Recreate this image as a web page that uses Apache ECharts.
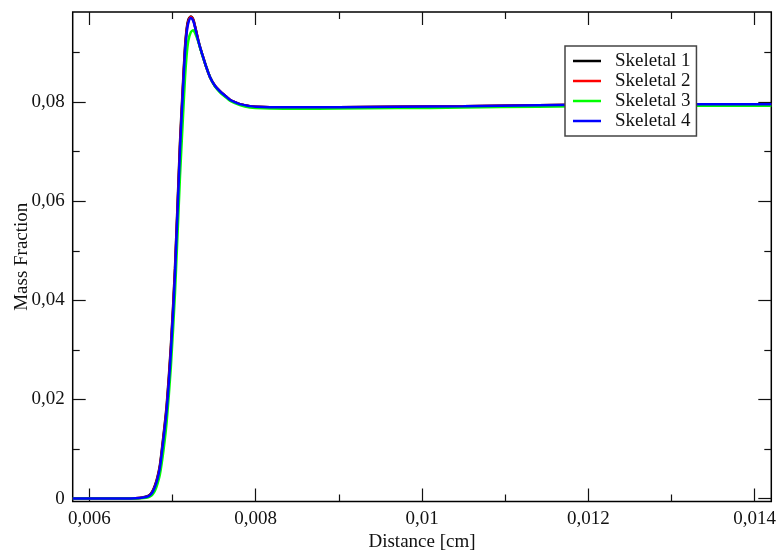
<!DOCTYPE html>
<html>
<head>
<meta charset="utf-8">
<script src="https://cdn.jsdelivr.net/npm/echarts@6/dist/echarts.min.js"></script>
<style>
  html, body { margin: 0; padding: 0; background: #fff; }
  #chart { width: 781px; height: 553px; }
</style>
</head>
<body>
<div id="chart"></div>
<script>
// Distance along the flame [cm]
const distance = [
  0.0058, 0.0062, 0.0064, 0.0065, 0.0066, 0.00665, 0.0067, 0.00673, 0.00676, 0.00679,
  0.00682, 0.00685, 0.00689, 0.00693, 0.00698, 0.00703, 0.00709, 0.00712, 0.00715, 0.00717,
  0.00719, 0.00722, 0.00725, 0.00727, 0.00731, 0.00734, 0.00737, 0.00741, 0.00745, 0.00751,
  0.00757, 0.00764, 0.00769, 0.00775, 0.00781, 0.00787, 0.00793, 0.0080, 0.00817, 0.0085,
  0.009, 0.0097, 0.0105, 0.0114, 0.0124, 0.0133, 0.0142
];

// Mass fraction for each skeletal mechanism
const skeletal1 = [
  0, 0, 0, 0.00003, 0.00012, 0.00025, 0.0005, 0.0008, 0.0015, 0.0027,
  0.0044, 0.0069, 0.0125, 0.0188, 0.0306, 0.0465, 0.0718, 0.0818, 0.0910, 0.0948,
  0.0966, 0.0973, 0.0967, 0.0954, 0.0925, 0.0906, 0.0890, 0.0869, 0.0851, 0.0833,
  0.0822, 0.0812, 0.0805, 0.0800, 0.0796, 0.0794, 0.0792, 0.0791, 0.0790, 0.07895,
  0.0790, 0.0791, 0.0792, 0.0794, 0.0795, 0.0796, 0.0796
];
const skeletal2 = [
  0, 0, 0, 0.00002, 0.0001, 0.0002, 0.00045, 0.00075, 0.0014, 0.0025,
  0.0042, 0.0066, 0.0121, 0.0183, 0.0300, 0.0458, 0.0710, 0.0810, 0.0905, 0.0944,
  0.0963, 0.0972, 0.0966, 0.0953, 0.0924, 0.0906, 0.0890, 0.0869, 0.0851, 0.0833,
  0.0822, 0.0812, 0.0805, 0.0800, 0.0796, 0.0794, 0.0792, 0.0791, 0.0790, 0.07895,
  0.0790, 0.0791, 0.0792, 0.0794, 0.0795, 0.0796, 0.0796
];
const skeletal3 = [
  0, 0, 0, 0.00001, 0.00005, 0.0001, 0.0002, 0.0004, 0.0008, 0.0016,
  0.0030, 0.0050, 0.0095, 0.0155, 0.0265, 0.0415, 0.0650, 0.0750, 0.0848, 0.0895,
  0.0924, 0.0941, 0.0945, 0.0940, 0.0922, 0.0905, 0.0889, 0.0869, 0.0851, 0.0832,
  0.0820, 0.0810, 0.0803, 0.0798, 0.0794, 0.0791, 0.0789, 0.0788, 0.0787, 0.07865,
  0.0787, 0.0788, 0.0789, 0.0791, 0.0792, 0.0793, 0.0793
];
const skeletal4 = [
  0, 0, 0, 0.00002, 0.0001, 0.0002, 0.0004, 0.0007, 0.0013, 0.0024,
  0.0040, 0.0064, 0.0118, 0.0179, 0.0295, 0.0452, 0.0704, 0.0805, 0.0900, 0.0940,
  0.0960, 0.0970, 0.0964, 0.0952, 0.0924, 0.0906, 0.0890, 0.0869, 0.0851, 0.0833,
  0.0822, 0.0812, 0.0805, 0.0800, 0.0796, 0.0794, 0.0792, 0.0791, 0.0790, 0.07895,
  0.0790, 0.0791, 0.0792, 0.0794, 0.0795, 0.0796, 0.0796
];

const seriesNames = ['Skeletal 1', 'Skeletal 2', 'Skeletal 3', 'Skeletal 4'];
const seriesColors = ['#000000', '#ff0000', '#00ff00', '#0000ff'];

// Axis ranges and tick positions
const xRange = [0.0058, 0.0142];
const yRange = [-0.0006, 0.0982];
const xMajorTicks = [0.006, 0.008, 0.01, 0.012, 0.014];
const xMinorTicks = [0.007, 0.009, 0.011, 0.013];
const yMajorTicks = [0, 0.02, 0.04, 0.06, 0.08];
const yMinorTicks = [0.01, 0.03, 0.05, 0.07, 0.09];

const FONT = 'Liberation Serif';
const commaDecimal = v => String(v).replace('.', ',');

// One axis per tick set/side so the frame gets inward ticks on all four edges
function tickAxis(range, position, ticks, len, withLabels, extra) {
  return Object.assign({
    type: 'value',
    position: position,
    min: range[0],
    max: range[1],
    axisLine: { show: false, onZero: false },
    splitLine: { show: false },
    axisTick: {
      show: true, inside: true, length: len, customValues: ticks,
      lineStyle: { color: '#111', width: 1.2 }
    },
    axisLabel: withLabels ? {
      show: true, customValues: ticks, formatter: commaDecimal,
      fontFamily: FONT, fontSize: 19, color: '#111'
    } : { show: false }
  }, extra || {});
}

const series = [skeletal1, skeletal2, skeletal3, skeletal4].map((vals, i) => ({
  name: seriesNames[i],
  type: 'line',
  xAxisIndex: 0,
  yAxisIndex: 0,
  symbol: 'none',
  smooth: 0.25,
  lineStyle: { color: seriesColors[i], width: 2.5 },
  itemStyle: { color: seriesColors[i] },
  data: distance.map((x, k) => [x, vals[k]])
}));

const chart = echarts.init(document.getElementById('chart'), null, { renderer: 'canvas' });
chart.setOption({
  animation: false,
  backgroundColor: '#ffffff',
  grid: {
    left: 72.7, right: 9.7, top: 12, bottom: 51.5,
    containLabel: false,
    outerBoundsMode: 'none',
    show: true, borderColor: '#000', borderWidth: 1.5, backgroundColor: 'transparent'
  },
  xAxis: [
    tickAxis(xRange, 'bottom', xMajorTicks, 13, true, {
      name: 'Distance [cm]', nameLocation: 'middle', nameGap: 31, nameMoveOverlap: false,
      nameTextStyle: { fontFamily: FONT, fontSize: 19, color: '#111' }
    }),
    tickAxis(xRange, 'bottom', xMinorTicks, 7, false),
    tickAxis(xRange, 'top', xMajorTicks, 13, false),
    tickAxis(xRange, 'top', xMinorTicks, 7, false)
  ],
  yAxis: [
    tickAxis(yRange, 'left', yMajorTicks, 13, true, {
      name: 'Mass Fraction', nameLocation: 'middle', nameGap: 41, nameMoveOverlap: false,
      nameTextStyle: { fontFamily: FONT, fontSize: 19, color: '#111' }
    }),
    tickAxis(yRange, 'left', yMinorTicks, 7, false),
    tickAxis(yRange, 'right', yMajorTicks, 13, false),
    tickAxis(yRange, 'right', yMinorTicks, 7, false)
  ],
  legend: {
    data: seriesNames,
    orient: 'vertical',
    left: 565,
    top: 46,
    padding: [5, 6, 5, 8],
    itemGap: 0,
    itemWidth: 28,
    itemHeight: 2.5,
    icon: 'rect',
    backgroundColor: '#ffffff',
    borderColor: '#444',
    borderWidth: 1.5,
    textStyle: { fontFamily: FONT, fontSize: 19, lineHeight: 20, color: '#111', padding: [0, 0, 0, 9] }
  },
  series: series
});
</script>
</body>
</html>
